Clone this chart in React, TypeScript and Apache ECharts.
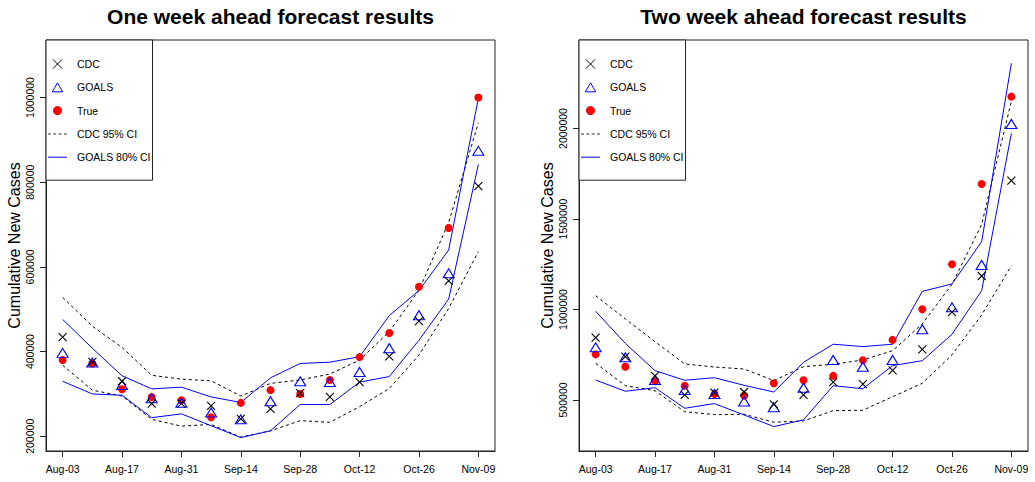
import React, { useEffect, useRef } from "react";
import * as echarts from "echarts";

const FONT = "'Liberation Sans', Arial, Helvetica, sans-serif";

const weeks = [
  "Aug-03", "Aug-10", "Aug-17", "Aug-24", "Aug-31", "Sep-07", "Sep-14", "Sep-21",
  "Sep-28", "Oct-05", "Oct-12", "Oct-19", "Oct-26", "Nov-02", "Nov-09",
];
const xTickIdx = [0, 2, 4, 6, 8, 10, 12, 14];

// One week ahead
const oneTicks = [200000, 400000, 600000, 800000, 1000000];
const oneTrue = [380000, 372000, 311000, 293000, 285000, 245000, 279000, 309000, 300000, 333000, 387000, 444000, 553000, 692000, 1000000];
const oneGoals = [397000, 374000, 321000, 290000, 279000, 256000, 240000, 283000, 330000, 328000, 352000, 408000, 486000, 585000, 874000];
const oneCdc = [434000, 376000, 330000, 277000, 277000, 272000, 241000, 265000, 302000, 293000, 328000, 389000, 472000, 567000, 791000];
const oneCdcUpper = [528000, 460000, 410000, 344000, 335000, 331000, 295000, 325000, 333000, 347000, 380000, 447000, 545000, 705000, 940000];
const oneCdcLower = [368000, 309000, 295000, 240000, 224000, 228000, 198000, 213000, 237000, 233000, 270000, 313000, 392000, 502000, 636000];
const oneGoalsUpper = [476000, 408000, 343000, 312000, 316000, 293000, 280000, 338000, 372000, 375000, 388000, 485000, 544000, 640000, 998000];
const oneGoalsLower = [330000, 300000, 297000, 244000, 253000, 225000, 197000, 213000, 275000, 275000, 328000, 341000, 427000, 524000, 842000];

// Two week ahead
const twoTicks = [500000, 1000000, 1500000, 2000000];
const twoTrue = [752000, 684000, 603000, 579000, 533000, 524000, 592000, 609000, 633000, 719000, 832000, 1001000, 1250000, 1693000, 2176000];
const twoGoals = [791000, 736000, 610000, 555000, 533000, 491000, 460000, 568000, 721000, 684000, 721000, 891000, 1012000, 1246000, 2025000];
const twoCdc = [844000, 739000, 633000, 528000, 540000, 544000, 476000, 528000, 598000, 588000, 664000, 780000, 985000, 1185000, 1712000];
const twoCdcUpper = [1076000, 948000, 822000, 699000, 682000, 671000, 607000, 684000, 697000, 721000, 772000, 920000, 1139000, 1470000, 2150000];
const twoCdcLower = [703000, 579000, 551000, 435000, 419000, 421000, 377000, 384000, 441000, 443000, 518000, 592000, 749000, 970000, 1242000];
const twoGoalsUpper = [990000, 813000, 662000, 609000, 623000, 581000, 544000, 708000, 808000, 795000, 808000, 1100000, 1141000, 1375000, 2360000];
const twoGoalsLower = [610000, 548000, 568000, 454000, 480000, 417000, 353000, 390000, 579000, 562000, 690000, 717000, 863000, 1104000, 1973000];

const titles = ["One week ahead forecast results", "Two week ahead forecast results"];
const yName = "Cumulative New Cases";

const X_PATH = "path://M0,0L10,10M0,10L10,0";
const TRI_PATH = "path://M5,0L10,8.7L0,8.7Z";
const DASH_PATH = "path://M0 0h3v1h-3zM5.3 0h3v1h-3zM10.6 0h3v1h-3zM16 0h3v1h-3z";
const LINE_PATH = "path://M0 0h19v1h-19z";

const legendData = [
  { name: "CDC", icon: X_PATH, itemStyle: { color: "transparent", borderColor: "#000", borderWidth: 1, opacity: 1 } },
  { name: "GOALS", icon: TRI_PATH, itemStyle: { color: "transparent", borderColor: "#0000ff", borderWidth: 1, opacity: 1 } },
  { name: "True", icon: "circle", itemStyle: { color: "#ff0000", borderWidth: 0, opacity: 1 } },
  { name: "CDC 95% CI", icon: DASH_PATH, itemStyle: { color: "#333", borderWidth: 0, opacity: 1 } },
  { name: "GOALS 80% CI", icon: LINE_PATH, itemStyle: { color: "#0000ff", borderWidth: 0, opacity: 1 } },
];

const pairs = (arr: number[]) => arr.map((v, i) => [i, v]);

const GRID_W = 449;
const GRID_H = 411;
const GRID_TOP = 40;
const panels = [
  {
    left: 46, yMin: 165300, yMax: 1135800, ticks: oneTicks,
    t: oneTrue, g: oneGoals, c: oneCdc, cu: oneCdcUpper, cl: oneCdcLower, gu: oneGoalsUpper, gl: oneGoalsLower,
  },
  {
    left: 579, yMin: 218000, yMax: 2489000, ticks: twoTicks,
    t: twoTrue, g: twoGoals, c: twoCdc, cu: twoCdcUpper, cl: twoCdcLower, gu: twoGoalsUpper, gl: twoGoalsLower,
  },
];

function buildOption() {
  const grid: any[] = [];
  const xAxis: any[] = [];
  const yAxis: any[] = [];
  const series: any[] = [];
  const legend: any[] = [];
  const graphic: any[] = [];

  panels.forEach((p, k) => {
    grid.push({
      left: p.left, top: GRID_TOP, width: GRID_W, height: GRID_H,
      show: true, borderColor: "#222", borderWidth: 1, backgroundColor: "transparent",
    });
    xAxis.push({
      gridIndex: k, type: "value", min: -0.56, max: 14.56,
      axisLine: { show: true, onZero: false, lineStyle: { color: "#222", width: 1 } },
      axisTick: { show: true, length: 6, customValues: xTickIdx, lineStyle: { color: "#222" } },
      axisLabel: {
        customValues: xTickIdx, formatter: (v: number) => weeks[Math.round(v)],
        fontSize: 10.5, fontFamily: FONT, color: "#000", margin: 12,
      },
      splitLine: { show: false },
    });
    yAxis.push({
      gridIndex: k, type: "value", min: p.yMin, max: p.yMax,
      name: yName, nameLocation: "middle", nameRotate: 90, nameGap: 24,
      nameTextStyle: { fontSize: 16, fontFamily: FONT, color: "#000" },
      axisLine: { show: true, onZero: false, lineStyle: { color: "#222", width: 1 } },
      axisTick: { show: true, length: 6, customValues: p.ticks, lineStyle: { color: "#222" } },
      axisLabel: {
        customValues: p.ticks, formatter: (v: number) => String(v), rotate: 90,
        fontSize: 10.5, fontFamily: FONT, color: "#000", margin: 11,
      },
      splitLine: { show: false },
    });
    const common = { xAxisIndex: k, yAxisIndex: k, silent: true };
    const dashed = { color: "#000", width: 1, type: [3, 3] };
    const solid = { color: "#0000ff", width: 1, type: "solid" };
    series.push(
      { ...common, type: "line", name: "CDC 95% CI", data: pairs(p.cu), symbol: "none", lineStyle: dashed, itemStyle: { color: "#000" }, z: 2 },
      { ...common, type: "line", name: "CDC 95% CI", data: pairs(p.cl), symbol: "none", lineStyle: dashed, itemStyle: { color: "#000" }, z: 2 },
      { ...common, type: "line", name: "GOALS 80% CI", data: pairs(p.gu), symbol: "none", lineStyle: solid, itemStyle: { color: "#0000ff" }, z: 2 },
      { ...common, type: "line", name: "GOALS 80% CI", data: pairs(p.gl), symbol: "none", lineStyle: solid, itemStyle: { color: "#0000ff" }, z: 2 },
      { ...common, type: "scatter", name: "True", data: pairs(p.t), symbol: "circle", symbolSize: 8, itemStyle: { color: "#ff0000", opacity: 1 }, z: 3 },
      {
        ...common, type: "scatter", name: "GOALS", data: pairs(p.g), symbol: "triangle", symbolSize: [11, 9],
        itemStyle: { color: "transparent", borderColor: "#0000ff", borderWidth: 1.1, opacity: 1 }, z: 4,
      },
      {
        ...common, type: "scatter", name: "CDC", data: pairs(p.c), symbol: X_PATH, symbolSize: 8,
        itemStyle: { color: "transparent", borderColor: "#000", borderWidth: 1.1, opacity: 1 }, z: 5,
      },
    );
    legend.push({
      orient: "vertical", left: p.left, top: GRID_TOP,
      padding: [18, 2, 17, 2], itemWidth: 19, itemHeight: 9, itemGap: 11.3,
      borderColor: "#222", borderWidth: 1, backgroundColor: "#fff",
      selectedMode: false, symbolKeepAspect: true,
      textStyle: { fontSize: 10.5, fontFamily: FONT, color: "#000", lineHeight: 12, padding: [0, 0, 0, 5] },
      data: legendData,
    });
    graphic.push({
      type: "text", x: p.left + GRID_W / 2, y: 16,
      style: { text: titles[k], align: "center", verticalAlign: "middle", font: `bold 21px ${FONT}`, fill: "#000" },
    });
  });

  return { animation: false, backgroundColor: "#fff", grid, xAxis, yAxis, series, legend, graphic };
}

export default function App() {
  const ref = useRef<HTMLDivElement>(null);
  useEffect(() => {
    if (!ref.current) return;
    const chart = echarts.init(ref.current, undefined, { renderer: "svg" });
    chart.setOption(buildOption() as any);
    return () => chart.dispose();
  }, []);
  return <div ref={ref} style={{ position: "absolute", left: 0, top: 0, width: 1035, height: 482 }} />;
}
